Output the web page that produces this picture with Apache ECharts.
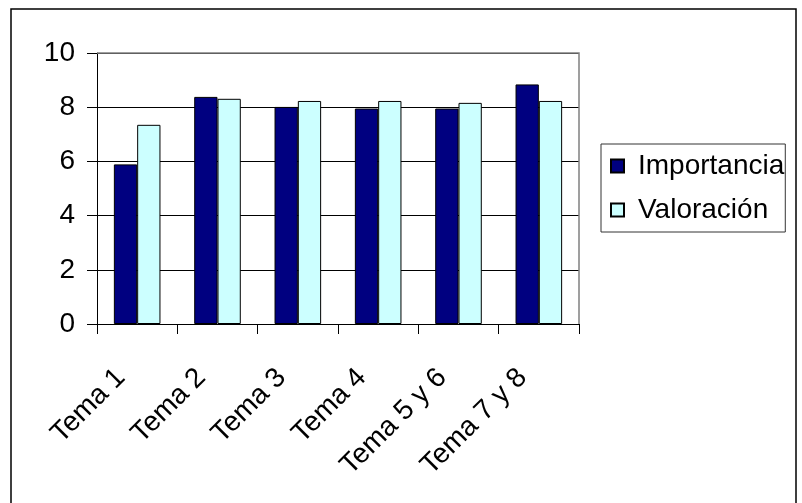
<!DOCTYPE html>
<html>
<head>
<meta charset="utf-8">
<script src="https://cdn.jsdelivr.net/npm/echarts@6/dist/echarts.min.js"></script>
<style>
html,body{margin:0;padding:0;background:#fff;}
#c{width:802px;height:503px;}
</style>
</head>
<body>
<div id="c"></div>
<script>
var categories = ['Tema 1', 'Tema 2', 'Tema 3', 'Tema 4', 'Tema 5 y 6', 'Tema 7 y 8'];
var importancia = [5.89, 8.38, 8.01, 7.95, 7.95, 8.84];
var valoracion = [7.35, 8.31, 8.23, 8.23, 8.16, 8.23];
var yTicks = [0, 2, 4, 6, 8, 10];

var FONT = 'Liberation Sans, Arial, sans-serif';
var G = {left: 97, top: 53, right: 223, bottom: 179};

var chart = echarts.init(document.getElementById('c'), null, {renderer: 'canvas'});
chart.setOption({
  animation: false,
  backgroundColor: '#ffffff',
  textStyle: {fontFamily: FONT},
  grid: {left: G.left, top: G.top, right: G.right, bottom: G.bottom, containLabel: false},
  legend: {
    orient: 'vertical',
    left: 601,
    top: 144,
    padding: [7, 1, 7, 9],
    itemGap: 14,
    itemWidth: 13,
    itemHeight: 13,
    borderColor: '#333',
    borderWidth: 1,
    icon: 'rect',
    textStyle: {fontSize: 28, lineHeight: 30, color: '#000', fontFamily: FONT, padding: [0, 0, 0, 9]},
    data: ['Importancia', 'Valoración']
  },
  xAxis: {
    type: 'category',
    data: categories,
    axisLine: {show: true, lineStyle: {color: '#000', width: 1}},
    axisTick: {show: true, length: 10, lineStyle: {color: '#000'}},
    axisLabel: {rotate: 45, fontSize: 28, color: '#000', margin: 33, padding: [0, 23, 0, 0], fontFamily: FONT, interval: 0},
    splitLine: {show: false}
  },
  yAxis: {
    type: 'value',
    min: yTicks[0],
    max: yTicks[yTicks.length - 1],
    interval: yTicks[1] - yTicks[0],
    axisLine: {show: true, lineStyle: {color: '#000', width: 1}},
    axisTick: {show: true, length: 10, lineStyle: {color: '#000'}},
    axisLabel: {fontSize: 28, color: '#000', margin: 22, fontFamily: FONT},
    splitLine: {show: true, lineStyle: {color: '#000', width: 1}}
  },
  series: [
    {
      name: 'Importancia',
      type: 'bar',
      data: importancia,
      barGap: '0%',
      barCategoryGap: '42%',
      itemStyle: {color: '#000080', borderColor: '#000', borderWidth: 1}
    },
    {
      name: 'Valoración',
      type: 'bar',
      data: valoracion,
      itemStyle: {color: '#ccffff', borderColor: '#000', borderWidth: 1}
    }
  ],
  graphic: [
    {
      type: 'rect',
      shape: {x: 11, y: 9, width: 785, height: 510},
      style: {fill: 'none', stroke: '#000', lineWidth: 1.5},
      silent: true,
      z: 100
    },
    {
      type: 'polyline',
      shape: {points: [[G.left, G.top], [802 - G.right, G.top], [802 - G.right, 503 - G.bottom]]},
      style: {fill: 'none', stroke: '#808080', lineWidth: 1.5},
      silent: true,
      z: 100
    }
  ]
});
</script>
</body>
</html>
